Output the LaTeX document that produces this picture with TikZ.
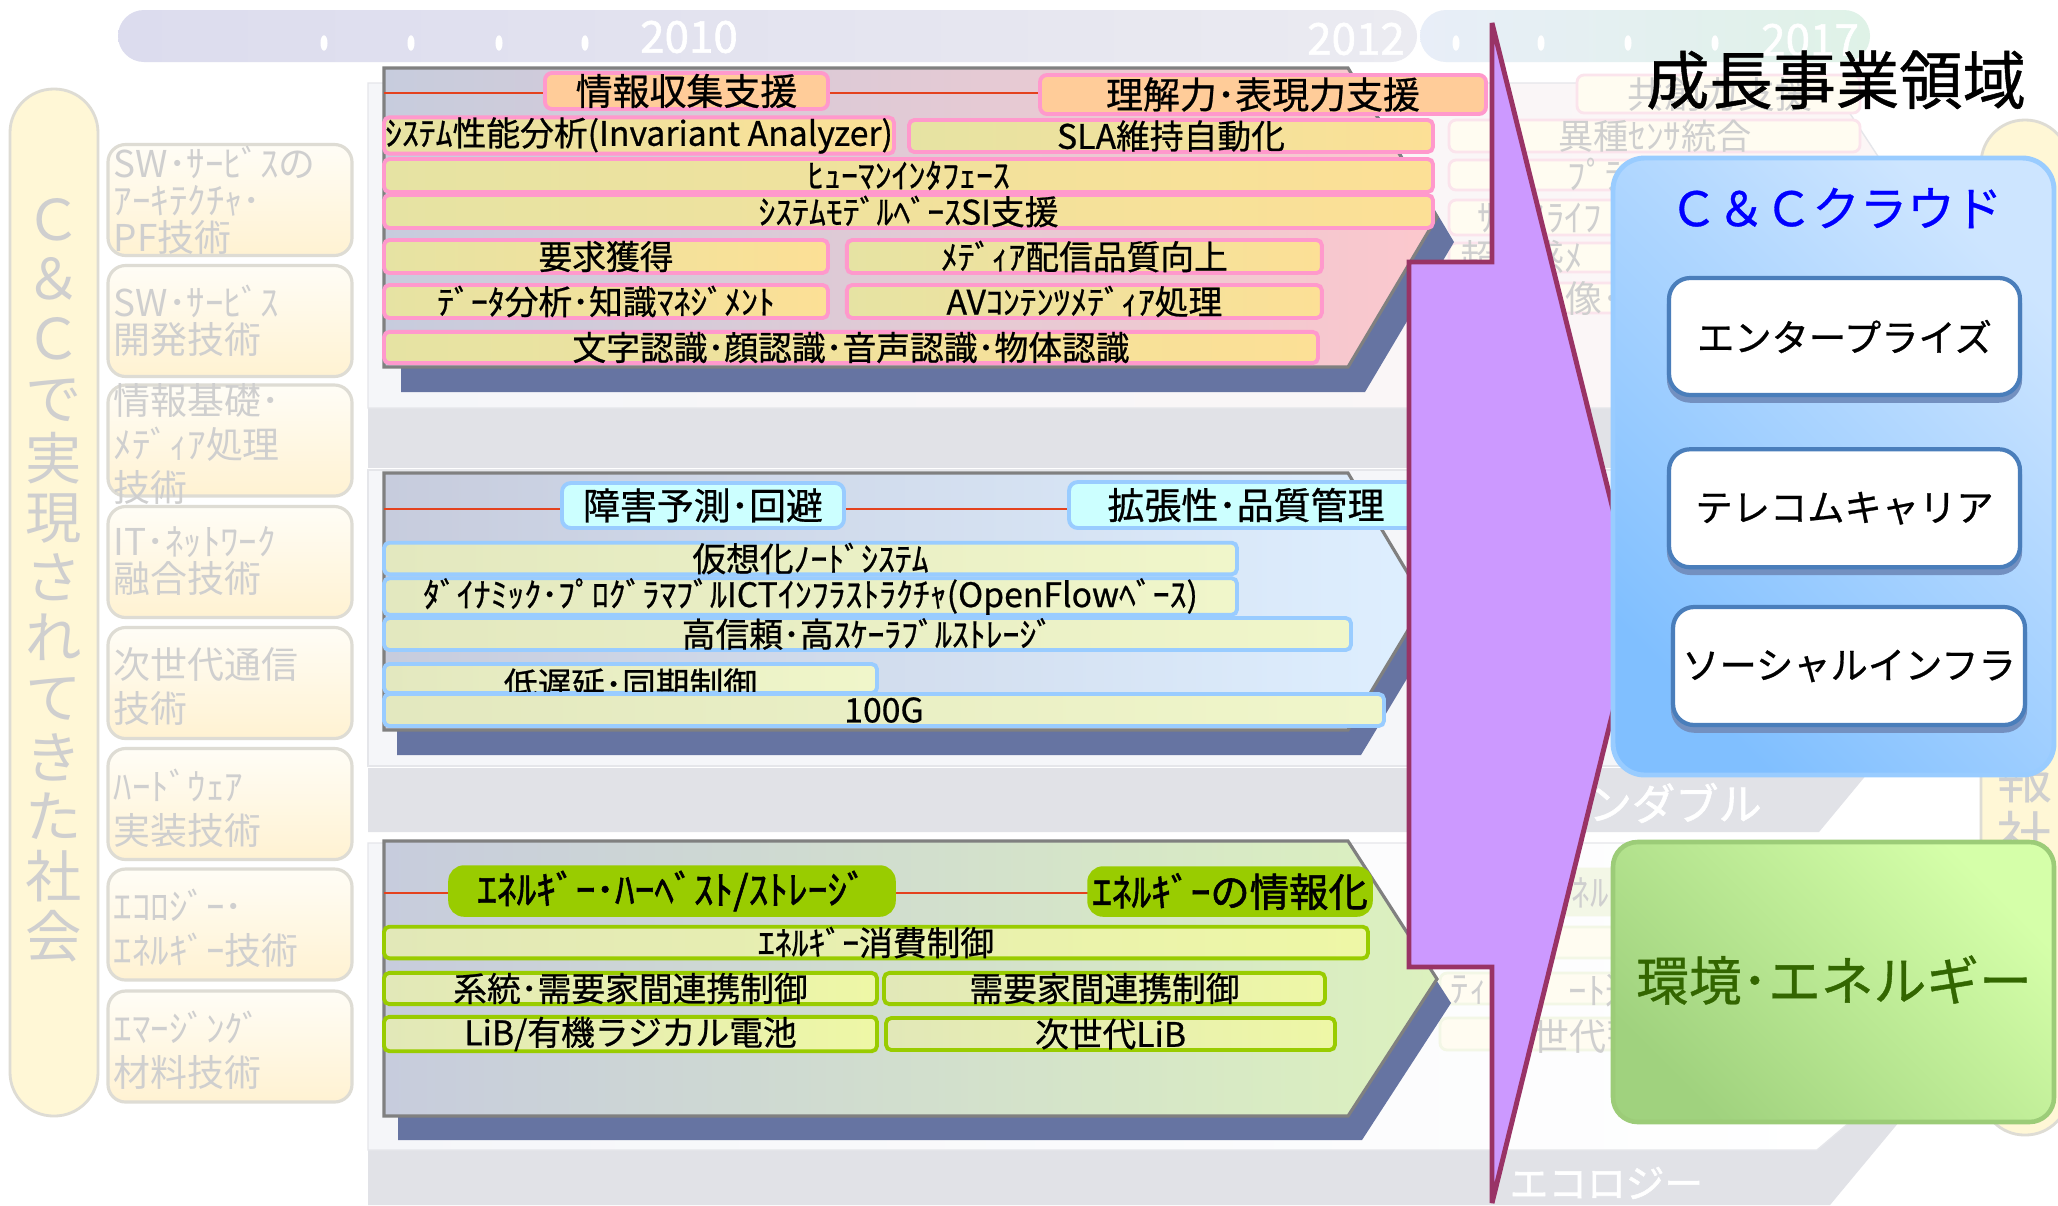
\documentclass[tikz,border=0pt]{standalone}
\usepackage{fontspec}
\setmainfont[FakeBold=0.7]{Noto Sans CJK JP}
\newfontfamily\jpthin{Noto Sans CJK JP}
\newfontfamily\jpbold[FakeBold=1.4]{Noto Sans CJK JP}
\usepackage{tikz}
\usetikzlibrary{positioning}
\usetikzlibrary{shadows}

\definecolor{fadetxt}{HTML}{CFCFCF}
\definecolor{pillfill}{HTML}{FFF7D6}
\definecolor{pillline}{HTML}{DEDCD4}
\definecolor{lboxA}{HTML}{FFFDF6}
\definecolor{lboxB}{HTML}{FFF2D2}
\definecolor{tlA}{HTML}{DCDCEE}
\definecolor{tlB}{HTML}{EBEBF1}
\definecolor{tlC}{HTML}{E8EEF8}
\definecolor{tlD}{HTML}{DFF2E7}
\definecolor{bggray}{HTML}{E1E2E7}
\definecolor{bglight}{HTML}{F5F6F9}
\definecolor{bgpink}{HTML}{FCF6F6}
\definecolor{bgline}{HTML}{E5E6EA}
\definecolor{fadefill}{HTML}{FFFCF1}
\definecolor{fadeline}{HTML}{FBE4EC}
\definecolor{fadegrn}{HTML}{F3F7E6}
\definecolor{pnlgray}{HTML}{808080}
\definecolor{pnlleft}{HTML}{C7CCDD}
\definecolor{pnlpink}{HTML}{FCC8CD}
\definecolor{pnlblue}{HTML}{DEEFFF}
\definecolor{pnlgreen}{HTML}{DCF1BE}
\definecolor{shadowblue}{HTML}{6674A2}
\definecolor{redc}{HTML}{E4421E}
\definecolor{pinkline}{HTML}{FF99CC}
\definecolor{peach}{HTML}{FFCC99}
\definecolor{yelA}{HTML}{E6E3A3}
\definecolor{yelB}{HTML}{FCE096}
\definecolor{blueline}{HTML}{99CCFF}
\definecolor{cyanhd}{HTML}{CCFFFF}
\definecolor{byelA}{HTML}{E3E8BF}
\definecolor{byelB}{HTML}{F0F6CA}
\definecolor{grnline}{HTML}{99CC00}
\definecolor{gyelA}{HTML}{E2E8B8}
\definecolor{gyelB}{HTML}{EEF7A6}
\definecolor{purplefill}{HTML}{CC99FF}
\definecolor{purpleline}{HTML}{993366}
\definecolor{ccA}{HTML}{80BFFF}
\definecolor{ccB}{HTML}{CDE5FF}
\definecolor{ccline}{HTML}{99CCFF}
\definecolor{wbline}{HTML}{4A7EBB}
\definecolor{wbshadow}{HTML}{7390C0}
\definecolor{envA}{HTML}{A0D27E}
\definecolor{envB}{HTML}{D5FFA9}
\definecolor{envline}{HTML}{9CCC78}
\definecolor{envtxt}{HTML}{336600}
\definecolor{cctxt}{HTML}{0000FF}

\newcommand{\fsitem}{\fontsize{9.6}{11}\selectfont}
\newcommand{\fshead}{\fontsize{10.5}{12}\selectfont}
\newcommand{\fsgrn}{\jpbold\fontsize{11.2}{12}\selectfont}
\newcommand{\fsleft}{\jpthin\fontsize{10.5}{10.5}\selectfont}
\newcommand{\fsleftw}{\jpthin\fontsize{10.5}{12.5}\selectfont}
\newcommand{\fsvert}{\jpthin\fontsize{16}{17}\selectfont}
\newcommand{\fsfade}{\jpthin\fontsize{10.5}{12}\selectfont}
\newcommand{\fsyear}{\jpbold\fontsize{12.5}{13}\selectfont}

\begin{document}
\begin{tikzpicture}[x=0.01cm, y=-0.01cm,
wh/.style 2 args={minimum width=#1*0.01cm, minimum height=#2*0.01cm},
tlbar/.style={rectangle, rounded corners=7.4pt, inner sep=0pt},
yeartxt/.style={text=white, font=\fsyear, inner sep=0pt},
pill/.style={rectangle, rounded corners=12.4pt, fill=pillfill, draw=pillline, line width=0.8pt, inner sep=0pt},
leftbox/.style={rectangle, rounded corners=5pt, top color=lboxA, bottom color=lboxB, draw=pillline, line width=0.9pt, inner sep=0pt},
lefttxt/.style={text=fadetxt, align=left, inner sep=0pt, anchor=west},
fadebox/.style={rectangle, rounded corners=2pt, fill=fadefill, draw=fadeline, line width=0.8pt, inner sep=0pt},
fadeword/.style={text=fadetxt, font=\fsfade, inner sep=0pt},
pnl/.style={draw=pnlgray, line width=0.9pt, left color=pnlleft},
pshadow/.style={fill=shadowblue},
redline/.style={draw=redc, line width=0.6pt},
pkhead/.style={rectangle, rounded corners=2pt, draw=pinkline, line width=1.1pt, fill=peach, inner sep=0pt, font=\fshead},
pkitem/.style={rectangle, rounded corners=1.5pt, draw=pinkline, line width=1.1pt, left color=yelA, right color=yelB, inner sep=0pt, font=\fsitem},
blhead/.style={rectangle, rounded corners=2.5pt, draw=blueline, line width=1.1pt, fill=cyanhd, inner sep=0pt, font=\fshead},
blitem/.style={rectangle, rounded corners=1.5pt, draw=blueline, line width=1.1pt, left color=byelA, right color=byelB, inner sep=0pt, font=\fsitem},
grhead/.style={rectangle, rounded corners=4pt, draw=grnline, line width=1pt, fill=grnline, inner sep=0pt, font=\fsgrn},
gritem/.style={rectangle, rounded corners=1.5pt, draw=grnline, line width=1.1pt, left color=gyelA, right color=gyelB, inner sep=0pt, font=\fsitem},
bigarrow/.style={fill=purplefill, draw=purpleline, line width=1.4pt, miter limit=4},
ccbox/.style={rectangle, rounded corners=9pt, draw=ccline, line width=1.4pt, top color=ccB, bottom color=ccA, shading angle=-45, inner sep=0pt},
whbox/.style={rectangle, rounded corners=6pt, fill=white, draw=wbline, line width=1.2pt, inner sep=0pt, font=\fontsize{10.6}{12}\selectfont,
  drop shadow={shadow xshift=0pt, shadow yshift=-1.6pt, fill=wbshadow, draw=wbshadow, opacity=1}},
envbox/.style={rectangle, rounded corners=7pt, draw=envline, line width=1.3pt, top color=envB, bottom color=envA, shading angle=-45, inner sep=0pt},
]
\useasboundingbox (0,0) rectangle (2058,1205);
\fill[white] (0,0) rectangle (2058,1205);

% time line
\node[tlbar, left color=tlA, right color=tlB, wh={1299}{52}] (TL1) at (767.5,36) {};
\node[tlbar, left color=tlC, right color=tlD, wh={450}{52}] (TL2) at (1645,36) {};
\foreach \dx in {324,411,499,585,1456,1541,1628,1715}
  \fill[white] (\dx,43) ellipse [x radius=1pt, y radius=2.2pt];
\node[yeartxt] (Y2010) at (689,37) {2010};
\node[yeartxt] (Y2012) at (1356,39) {2012};
\node[yeartxt] (Y2017) at (1810,40) {2017};

% society column (faded)
\node[pill, wh={88}{1027}] (L_pill) at (54,602.5) {};
\node[text=fadetxt, align=center, font=\fsvert, inner sep=0pt] (L_title) at (54,580)
  {Ｃ\\＆\\Ｃ\\で\\実\\現\\さ\\れ\\て\\き\\た\\社\\会};
\foreach \yy/\nm in {200/L1,321/L2,440.5/L3,562/L4,683/L5,804/L6,924.5/L7,1046.5/L8}
  \node[leftbox, wh={244}{111}] (\nm) at (230,\yy) {};
\node[lefttxt, font=\fsleft] (L1_t) at (113,200) {SW･ｻｰﾋﾞｽの\\ｱｰｷﾃｸﾁｬ･\\PF技術};
\node[lefttxt, font=\fsleft] (L2_t) at (113,320.5) {SW･ｻｰﾋﾞｽ\\開発技術};
\node[lefttxt, font=\fsleftw] (L3_t) at (113,444) {情報基礎･\\ﾒﾃﾞｨｱ処理\\技術};
\node[lefttxt, font=\fsleft] (L4_t) at (113,561) {IT･ﾈｯﾄﾜｰｸ\\融合技術};
\node[lefttxt, font=\fsleftw] (L5_t) at (113,686.5) {次世代通信\\技術};
\node[lefttxt, font=\fsleftw] (L6_t) at (113,808) {ﾊｰﾄﾞｳｪｱ\\実装技術};
\node[lefttxt, font=\fsleftw] (L7_t) at (113,928.5) {ｴｺﾛｼﾞｰ･\\ｴﾈﾙｷﾞｰ技術};
\node[lefttxt, font=\fsleftw] (L8_t) at (113,1050) {ｴﾏｰｼﾞﾝｸﾞ\\材料技術};

% background bands
\fill[bggray] (368,408) rectangle (1620,468);
\fill[bggray] (368,768) -- (1872,768) -- (1819,832) -- (368,832) -- cycle;
\fill[bggray] (368,843) -- (2000,843) -- (2000,1050) -- (1899,1122) -- (1830,1205) -- (368,1205) -- cycle;
\draw[bgline, left color=bglight, right color=bgpink] (368,83) -- (1830,83) -- (1900,190) -- (1900,408) -- (368,408) -- cycle;
\draw[bgline, fill=bglight] (368,470) rectangle (1620,766);
\draw[bgline, left color=bglight, right color=white] (368,843) -- (1850,843) -- (1850,1122) -- (1817,1150) -- (368,1150) -- cycle;
\node[text=white, font=\jpbold\fontsize{12.3}{13}\selectfont, anchor=west, inner sep=0pt] (B2_lbl) at (1588,803) {ンダブル};
\node[text=white, font=\jpbold\fontsize{11}{12}\selectfont, anchor=west, inner sep=0pt] (B3_lbl) at (1509,1183) {エコロジー};

% faded items behind the growth areas
\node[fadebox, wh={283}{38}] (F1) at (1718.5,94) {};
\node[fadeword] (F1_t) at (1720,95) {共創力支援};
\node[fadebox, wh={411}{32}] (F2) at (1654.5,136) {};
\node[fadeword, font=\jpthin\fontsize{10}{11}\selectfont] (F2_t) at (1655,136) {異種ｾﾝｻ統合};
\node[fadebox, wh={411}{30}] (F3) at (1654.5,175) {};
\node[fadeword, anchor=west] (F3_t) at (1567,175) {ﾌﾟﾗ};
\node[fadebox, wh={411}{35}] (F4) at (1654.5,217.5) {};
\node[fadeword, anchor=west] (F4_a) at (1477,218) {ｻ};
\node[fadeword, anchor=west] (F4_b) at (1527,218) {ｽﾗｲﾌ};
\node[fadebox, wh={411}{29}] (F5) at (1654.5,257.5) {};
\node[fadeword, anchor=west] (F5_a) at (1460,257) {超};
\node[fadeword, anchor=west] (F5_b) at (1527,257) {感ﾒ};
\node[fadebox, wh={411}{30}] (F6) at (1654.5,298) {};
\node[fadeword, anchor=west] (F6_t) at (1565,298) {像･};
\node[fadebox, fill=fadegrn, draw=fadegrn, wh={200}{46}] (G1) at (1655,892) {};
\node[fadeword, anchor=west] (G1_t) at (1571,893) {ﾈﾙ};
\node[fadebox, draw=fadegrn, wh={260}{31}] (G2) at (1570,942.5) {};
\node[fadebox, draw=fadegrn, wh={260}{31}] (G3) at (1570,988.5) {};
\node[fadeword, anchor=west] (G3_a) at (1450,990) {ﾃｨ･};
\node[fadeword, anchor=west] (G3_b) at (1568,990) {ｰﾄ連};
\node[fadebox, draw=fadegrn, wh={260}{32}] (G4) at (1570,1034) {};
\node[fadeword, anchor=west] (G4_t) at (1532,1036) {世代蓄};

% panel 1: information
\fill[pshadow, shift={(17,25)}] (384,68) -- (1348,68) -- (1437,217) -- (1348,367) -- (384,367) -- cycle;
\draw[pnl, right color=pnlpink] (384,68) -- (1348,68) -- (1437,217) -- (1348,367) -- (384,367) -- cycle;
\coordinate (P1_rl) at (384,93);
\coordinate (P1_rr) at (1100,93);
\draw[redline] (P1_rl) -- (P1_rr);
\node[pkhead, wh={283}{36}] (P1_H1) at (686.5,91) {情報収集支援};
\node[pkhead, wh={446}{39}] (P1_H2) at (1263,94.5) {理解力･表現力支援};
\node[pkitem, wh={510}{35}] (P1_I1) at (639,135.5) {ｼｽﾃﾑ性能分析(Invariant Analyzer)};
\node[pkitem, wh={524}{32}] (P1_I2) at (1171,136) {SLA維持自動化};
\node[pkitem, wh={1049}{33}] (P1_I3) at (908.5,175.5) {ﾋｭｰﾏﾝｲﾝﾀﾌｪｰｽ};
\node[pkitem, wh={1049}{33}] (P1_I4) at (908.5,211.5) {ｼｽﾃﾑﾓﾃﾞﾙﾍﾞｰｽSI支援};
\node[pkitem, wh={444}{33}] (P1_I5) at (606,256.5) {要求獲得};
\node[pkitem, wh={475}{33}, right=0.15cm of P1_I5] (P1_I6) {ﾒﾃﾞｨｱ配信品質向上};
\node[pkitem, wh={444}{33}] (P1_I7) at (606,301.5) {ﾃﾞｰﾀ分析･知識ﾏﾈｼﾞﾒﾝﾄ};
\node[pkitem, wh={475}{33}, right=0.15cm of P1_I7] (P1_I8) {AVｺﾝﾃﾝﾂﾒﾃﾞｨｱ処理};
\node[pkitem, wh={934}{31}] (P1_I9) at (851,347.5) {文字認識･顔認識･音声認識･物体認識};

% panel 2: network
\fill[pshadow, shift={(13,25)}] (384,473) -- (1348,473) -- (1425,602) -- (1348,730) -- (384,730) -- cycle;
\draw[pnl, right color=pnlblue] (384,473) -- (1348,473) -- (1425,602) -- (1348,730) -- (384,730) -- cycle;
\coordinate (P2_rl) at (384,509);
\coordinate (P2_rr) at (1100,509);
\draw[redline] (P2_rl) -- (P2_rr);
\node[blhead, wh={282}{45}] (P2_H1) at (703,505.5) {障害予測･回避};
\node[blhead, wh={354}{46}] (P2_H2) at (1246,505) {拡張性･品質管理};
\node[blitem, wh={853}{31}] (P2_I1) at (810.5,558.5) {仮想化ﾉｰﾄﾞｼｽﾃﾑ};
\node[blitem, wh={853}{33}] (P2_I2) at (810.5,596.5) {ﾀﾞｲﾅﾐｯｸ･ﾌﾟﾛｸﾞﾗﾏﾌﾞﾙICTｲﾝﾌﾗｽﾄﾗｸﾁｬ(OpenFlowﾍﾞｰｽ)};
\node[blitem, wh={967}{32}] (P2_I3) at (867.5,634) {高信頼･高ｽｹｰﾗﾌﾞﾙｽﾄﾚｰｼﾞ};
\node[blitem, wh={493}{29}] (P2_I4) at (630.5,678.5) {};
\node[font=\fsitem, inner sep=0pt] (P2_I4t) at (630.5,684) {低遅延･同期制御};
\node[blitem, wh={1000}{32}] (P2_I5) at (884,710) {100G};

% panel 3: energy
\fill[pshadow, shift={(14,24)}] (384,841) -- (1348,841) -- (1437,979) -- (1348,1116) -- (384,1116) -- cycle;
\draw[pnl, right color=pnlgreen] (384,841) -- (1348,841) -- (1437,979) -- (1348,1116) -- (384,1116) -- cycle;
\coordinate (P3_rl) at (384,893);
\coordinate (P3_rr) at (1120,893);
\draw[redline] (P3_rl) -- (P3_rr);
\node[grhead, wh={444}{48}] (P3_H1) at (672,891) {ｴﾈﾙｷﾞｰ･ﾊｰﾍﾞｽﾄ/ｽﾄﾚｰｼﾞ};
\node[grhead, wh={282}{47}] (P3_H2) at (1230,891.5) {ｴﾈﾙｷﾞｰの情報化};
\node[gritem, wh={984}{31}] (P3_I1) at (876,942.5) {ｴﾈﾙｷﾞｰ消費制御};
\node[gritem, wh={493}{31}] (P3_I2) at (630.5,988.5) {系統･需要家間連携制御};
\node[gritem, wh={441}{31}] (P3_I3) at (1104.5,988.5) {需要家間連携制御};
\node[gritem, wh={493}{32}] (P3_I4) at (630.5,1034) {LiB/有機ラジカル電池};
\node[gritem, wh={449}{32}] (P3_I5) at (1110.5,1034) {次世代LiB};

% right pill (faded)
\node[pill, wh={88}{1015}] (R_pill) at (2025,627.5) {};
\node[text=fadetxt, align=center, font=\fsvert, inner sep=0pt] (R_title) at (2025,807) {報\\社};

% big arrow
\draw[bigarrow] (1492,23) -- (1638,610) -- (1492,1203) -- (1492,967) -- (1409,967) -- (1409,262) -- (1492,262) -- cycle;

% growth areas
\node[font=\fontsize{18}{20}\selectfont, inner sep=0pt] (GR_title) at (1836,80) {成長事業領域};
\node[ccbox, wh={441}{617}] (CC_box) at (1833.5,466.5) {};
\node[text=cctxt, font=\fontsize{13.5}{15}\selectfont, inner sep=0pt] (CC_lbl) at (1836,208) {Ｃ＆Ｃクラウド};
\node[whbox, wh={351}{117}] (CC_E) at (1844.5,336.5) {エンタープライズ};
\node[whbox, wh={351}{118}, below=0.5cm of CC_E] (CC_T) {テレコムキャリア};
\node[whbox, wh={352}{118}] (CC_S) at (1849,666) {ソーシャルインフラ};
\node[envbox, wh={441}{280}] (ENV_box) at (1833.5,982) {};
\node[text=envtxt, font=\fontsize{15}{16}\selectfont, inner sep=0pt] (ENV_lbl) at (1834,980) {環境･エネルギー};

\end{tikzpicture}
\end{document}
